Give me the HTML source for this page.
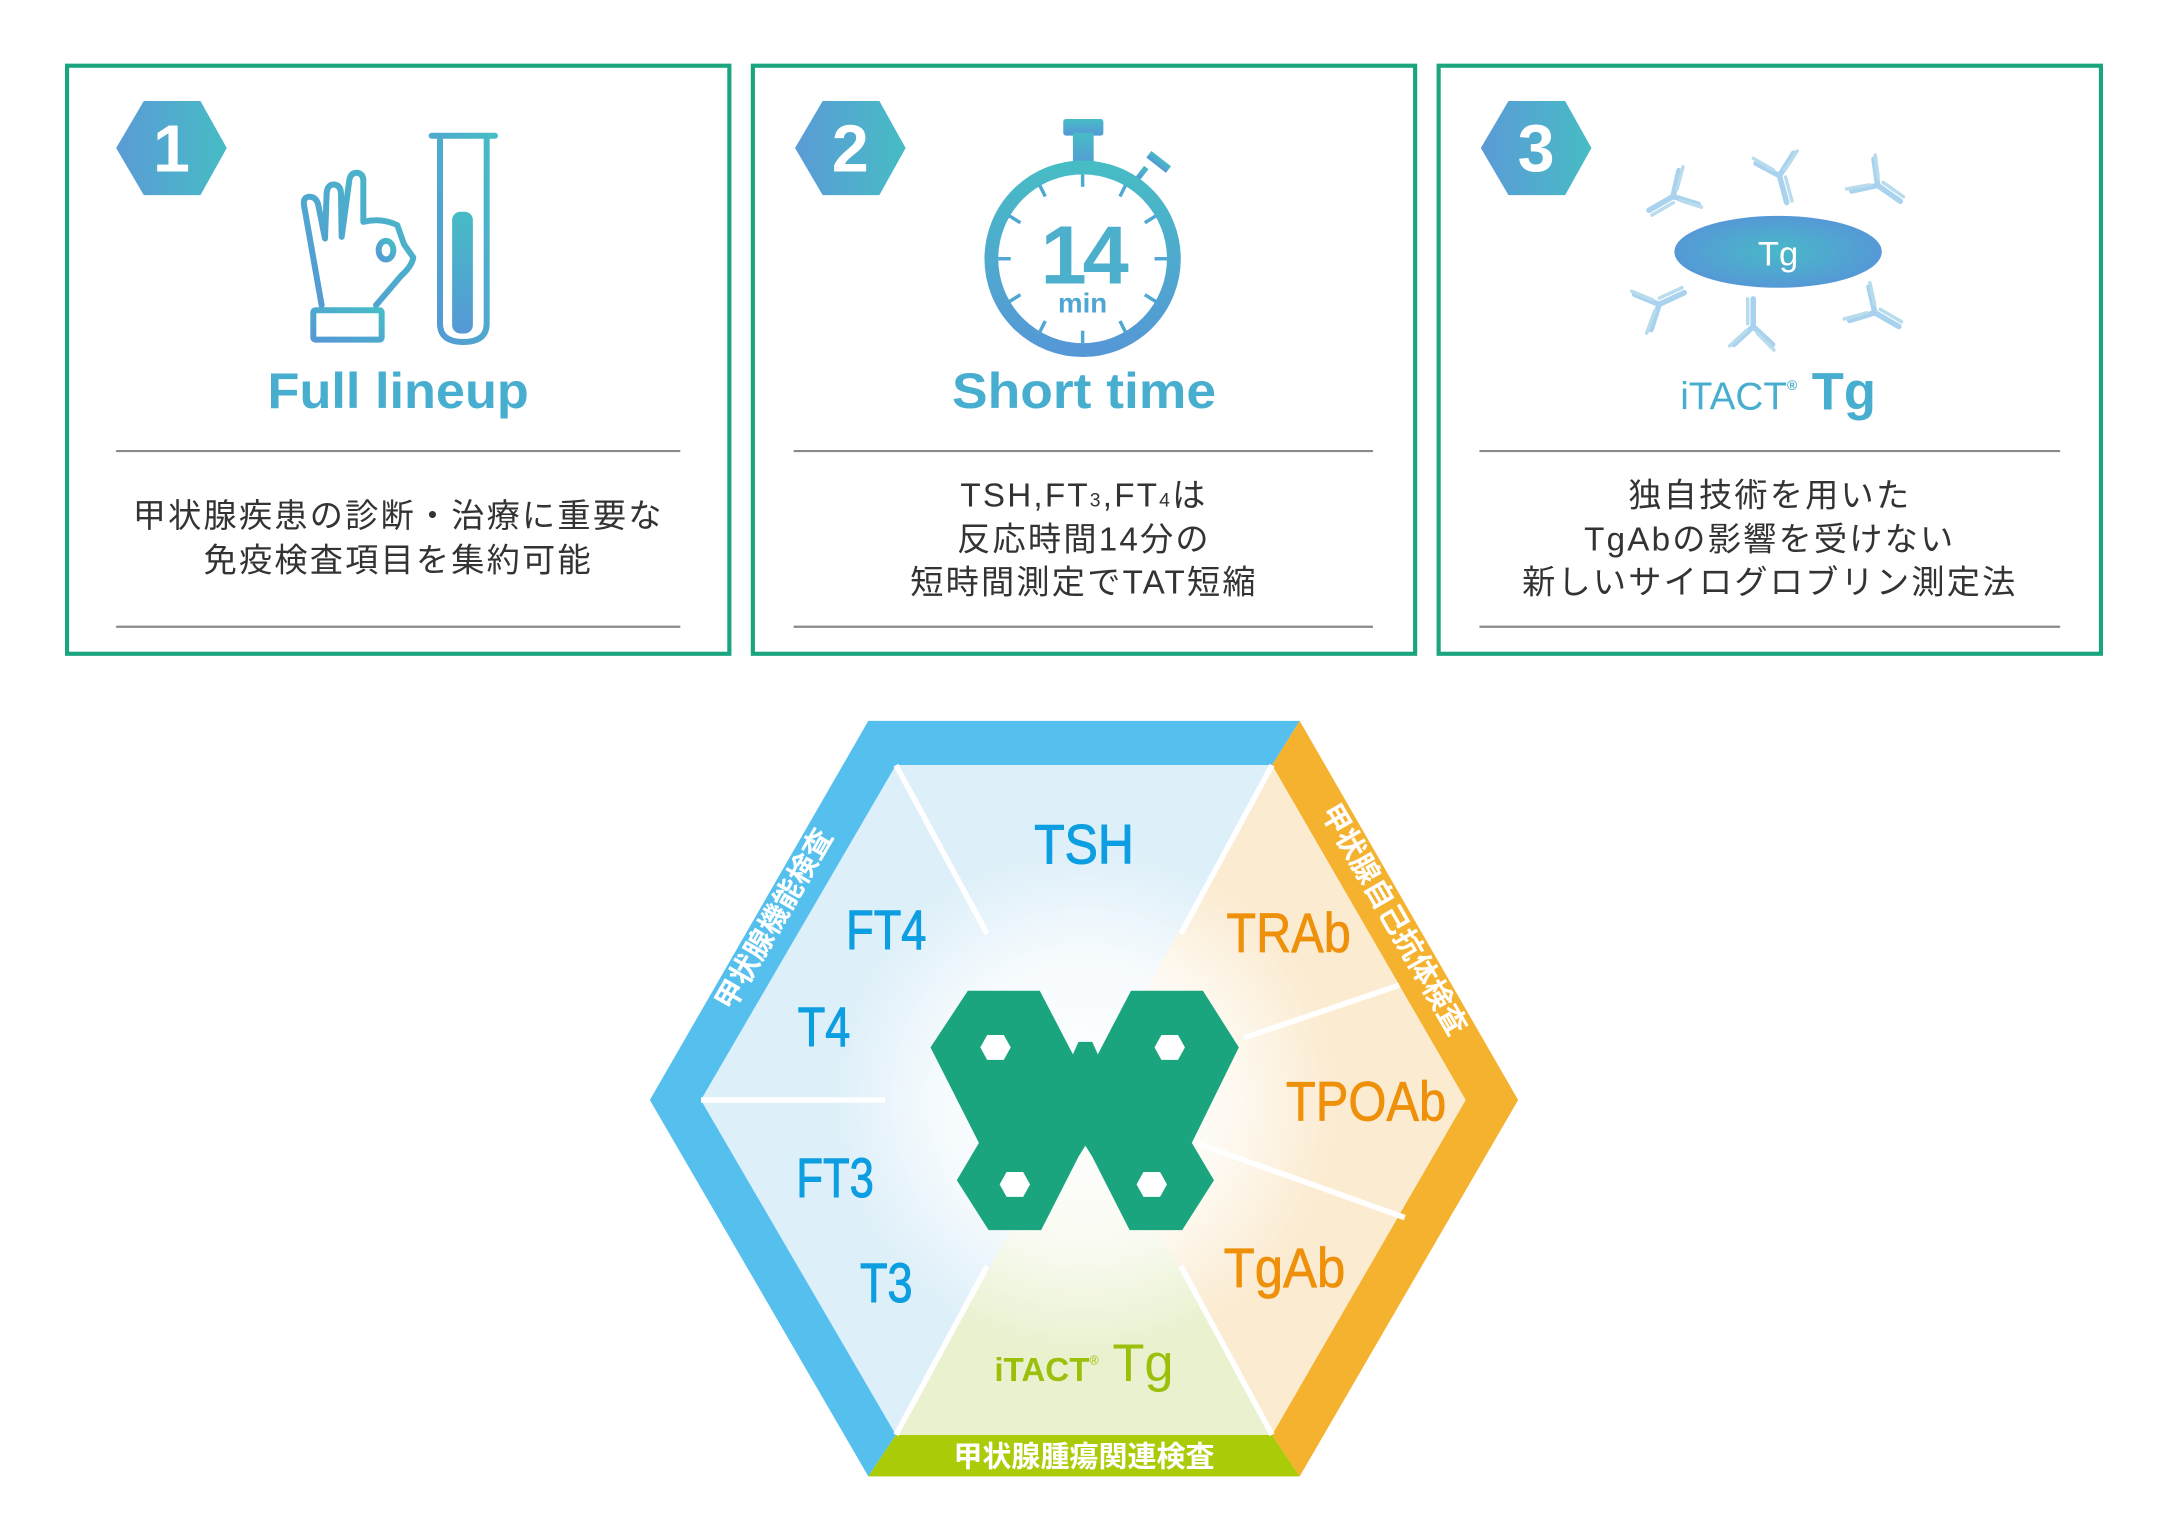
<!DOCTYPE html>
<html><head><meta charset="utf-8"><style>
html,body{margin:0;padding:0;background:#fff}
svg{display:block}
.jp{font-family:"Liberation Sans","Noto Sans CJK JP",sans-serif}
</style></head><body>
<svg width="2168" height="1540" viewBox="0 0 1568 1113" preserveAspectRatio="none" xmlns="http://www.w3.org/2000/svg">
<defs>
<linearGradient id="hg" x1="0" y1="0" x2="1" y2="0"><stop offset="0" stop-color="#5a9bd6"/><stop offset="1" stop-color="#47bcc5"/></linearGradient>
<linearGradient id="ig" x1="0" y1="0" x2="0" y2="1"><stop offset="0" stop-color="#47bcc5"/><stop offset="1" stop-color="#5598d6"/></linearGradient>
<linearGradient id="ig2" x1="1" y1="0" x2="0" y2="1"><stop offset="0" stop-color="#47bcc5"/><stop offset="1" stop-color="#5598d6"/></linearGradient>
<radialGradient id="eg" cx="0.5" cy="0.5" r="0.5"><stop offset="0" stop-color="#49b8c8"/><stop offset="1" stop-color="#5599d6"/></radialGradient>
<radialGradient id="cw" cx="0.5" cy="0.5" r="0.5"><stop offset="0" stop-color="#fff" stop-opacity="1"/><stop offset="0.55" stop-color="#fff" stop-opacity="0.75"/><stop offset="1" stop-color="#fff" stop-opacity="0"/></radialGradient>
<g id="ab" stroke="#a8d2ee" stroke-width="4" stroke-linecap="round" fill="none">
<path d="M0,0 L0,20 M0,0 L-14,-13 M0,0 L14,-13"/>
<path d="M4,2 L4,20 M-3,-5 L-15,-17 M5,-3 L17,-14" stroke="#b8dcec" stroke-width="2.5"/>
</g>
</defs>

<!-- boxes -->
<g fill="none" stroke="#1aa57f" stroke-width="3">
<rect x="48.5" y="47.5" width="479" height="425"/>
<rect x="544.5" y="47.5" width="479" height="425"/>
<rect x="1040.5" y="47.5" width="479" height="425"/>
</g>
<g stroke="#8a8a8a" stroke-width="1.6">
<line x1="84" y1="326" x2="492" y2="326"/><line x1="84" y1="453" x2="492" y2="453"/>
<line x1="574" y1="326" x2="993" y2="326"/><line x1="574" y1="453" x2="993" y2="453"/>
<line x1="1070" y1="326" x2="1490" y2="326"/><line x1="1070" y1="453" x2="1490" y2="453"/>
</g>

<!-- badges -->
<g fill="url(#hg)">
<polygon points="84,107 104,73 145,73 164,107 145,141 104,141"/>
<polygon points="575,107 595,73 636,73 655,107 636,141 595,141"/>
<polygon points="1071,107 1091,73 1132,73 1151,107 1132,141 1091,141"/>
</g>
<g fill="#fff" font-family="Liberation Sans,sans-serif" font-weight="bold" font-size="48" text-anchor="middle">
<text x="124" y="124">1</text><text x="615" y="124">2</text><text x="1111" y="124">3</text>
</g>

<!-- box1 icon -->
<g transform="translate(202.5,86.8) scale(0.2411)" fill="none" stroke="url(#ig2)" stroke-width="18" stroke-linejoin="round" stroke-linecap="round">
<path d="M125,555 L72,255 Q68,228 93,230 Q110,233 115,255 L135,355 L140,220 Q142,192 163,193 Q183,196 183,222 L185,350 L208,180 Q212,157 233,158 Q252,162 250,188 L250,305 Q305,292 352,315 L372,372 L400,412 Q395,438 365,465 L288,555"/>
<ellipse cx="318" cy="390" rx="22" ry="28"/>
<rect x="100" y="570" width="205" height="88" rx="6"/>
<path d="M455,47 L645,47 M480,50 L480,610 Q480,665 550,665 Q620,665 620,610 L620,50"/>
</g>
<rect x="327" y="153" width="15" height="88" rx="6" fill="url(#ig)"/>
<text x="288" y="295" text-anchor="middle" font-family="Liberation Sans,sans-serif" font-weight="bold" font-size="36" fill="#48aed0" textLength="189" lengthAdjust="spacingAndGlyphs">Full lineup</text>

<!-- box2 stopwatch -->
<g fill="url(#ig)">
<rect x="769" y="86" width="29" height="12" rx="2"/>
<rect x="776" y="96" width="15" height="26"/>
<rect x="829" y="114" width="18" height="6" transform="rotate(38 838 117)"/>
<rect x="824" y="120" width="4" height="10" transform="rotate(38 826 125)"/>
</g>
<circle cx="783" cy="187" r="66" fill="none" stroke="url(#ig)" stroke-width="10"/>
<g stroke="#4fa8d2" stroke-width="2.5">
<line x1="783" y1="126" x2="783" y2="135"/><line x1="783" y1="239" x2="783" y2="248"/>
<line x1="722" y1="187" x2="731" y2="187"/><line x1="835" y1="187" x2="844" y2="187"/>
<line x1="752" y1="134" x2="756" y2="142"/><line x1="814" y1="134" x2="810" y2="142"/>
<line x1="752" y1="240" x2="756" y2="232"/><line x1="814" y1="240" x2="810" y2="232"/>
<line x1="730" y1="156" x2="738" y2="161"/><line x1="836" y1="156" x2="828" y2="161"/>
<line x1="730" y1="218" x2="738" y2="213"/><line x1="836" y1="218" x2="828" y2="213"/>
</g>
<text x="783" y="205" text-anchor="middle" font-family="Liberation Sans,sans-serif" font-weight="bold" font-size="60" fill="#4cb0cc" letter-spacing="-3">14</text>
<text x="783" y="226" text-anchor="middle" font-family="Liberation Sans,sans-serif" font-weight="bold" font-size="20" fill="#4fa6d2">min</text>
<text x="784" y="295" text-anchor="middle" font-family="Liberation Sans,sans-serif" font-weight="bold" font-size="36" fill="#48aed0" textLength="191" lengthAdjust="spacingAndGlyphs">Short time</text>

<!-- box3 -->
<ellipse cx="1286" cy="182" rx="75" ry="26" fill="url(#eg)"/>
<text x="1286" y="192" text-anchor="middle" font-family="Liberation Sans,sans-serif" font-size="25" fill="#fff">Tg</text>
<use href="#ab" transform="translate(1210,142) rotate(60)"/>
<use href="#ab" transform="translate(1287,127) rotate(-15)"/>
<use href="#ab" transform="translate(1358,134) rotate(-55)"/>
<use href="#ab" transform="translate(1200,220) rotate(-115)"/>
<use href="#ab" transform="translate(1268,236) rotate(180)"/>
<use href="#ab" transform="translate(1356,226) rotate(-60)"/>
<text x="1286" y="296" text-anchor="middle" font-family="Liberation Sans,sans-serif" font-weight="bold" fill="#48aed0"><tspan font-size="28" font-weight="normal">iTACT</tspan><tspan font-size="10" dy="-14">®</tspan><tspan font-size="38" dy="14"> Tg</tspan></text>

<!-- body text -->
<g class="jp" font-size="24" fill="#333" text-anchor="middle" letter-spacing="1.6">
<text x="288" y="381">甲状腺疾患の診断・治療に重要な</text>
<text x="288" y="413">免疫検査項目を集約可能</text>
<text x="784" y="366">TSH,FT<tspan font-size="14">3</tspan>,FT<tspan font-size="14">4</tspan>は</text>
<text x="784" y="398">反応時間14分の</text>
<text x="784" y="429">短時間測定でTAT短縮</text>
<text x="1280" y="366">独自技術を用いた</text>
<text x="1280" y="398">TgAbの影響を受けない</text>
<text x="1280" y="429">新しいサイログロブリン測定法</text>
</g>

<!-- big hexagon -->
<polygon points="628,521 940,521 920,553 648,553 507,795 648,1037 628,1067 470,795" fill="#55c0ee"/>
<polygon points="940,521 1098,795 940,1067 920,1037 1060,795 920,553" fill="#f4b22e"/>
<polygon points="628,1067 648,1037 920,1037 940,1067" fill="#a9cb08"/>
<polygon points="784,795 920,553 648,553 507,795 648,1037" fill="#ddeff9"/>
<polygon points="784,795 920,553 1060,795 920,1037" fill="#fbebd0"/>
<polygon points="784,795 920,1037 648,1037" fill="#e9f1cf"/>
<circle cx="784" cy="795" r="185" fill="url(#cw)"/>
<g stroke="#fff" stroke-width="4">
<line x1="648" y1="553" x2="714" y2="675"/><line x1="920" y1="553" x2="854" y2="675"/>
<line x1="507" y1="795" x2="640" y2="795"/>
<line x1="648" y1="1037" x2="714" y2="915"/><line x1="920" y1="1037" x2="854" y2="915"/>
<line x1="900" y1="750" x2="1012" y2="712"/><line x1="862" y1="825" x2="1016" y2="880"/>
</g>
<!-- butterfly -->
<polygon fill="#1ba57f" points="700,716 752,716 776,762 780,753 790,753 794,762 818,716 870,716 896,757 862,826 878,853 855,889 817,889 790,836 785,828 780,836 753,889 715,889 692,853 708,826 673,757"/>
<g fill="#fff">
<polygon points="709,757 714,748 726,748 731,757 726,766 714,766"/>
<polygon points="835,757 840,748 852,748 857,757 852,766 840,766"/>
<polygon points="723,856 728,847 740,847 745,856 740,865 728,865"/>
<polygon points="822,856 827,847 839,847 844,856 839,865 827,865"/>
</g>

<g font-family="Liberation Sans,sans-serif" font-size="40" fill="#0c9ee0" stroke="#0c9ee0" stroke-width="0.8" lengthAdjust="spacingAndGlyphs">
<text x="748" y="624" textLength="72" lengthAdjust="spacingAndGlyphs">TSH</text>
<text x="612" y="686" textLength="58" lengthAdjust="spacingAndGlyphs">FT4</text>
<text x="577" y="756" textLength="38" lengthAdjust="spacingAndGlyphs">T4</text>
<text x="576" y="865" textLength="56" lengthAdjust="spacingAndGlyphs">FT3</text>
<text x="622" y="941" textLength="38" lengthAdjust="spacingAndGlyphs">T3</text>
</g>
<g font-family="Liberation Sans,sans-serif" font-size="40" fill="#ef900b" stroke="#ef900b" stroke-width="0.5">
<text x="887" y="688" textLength="90" lengthAdjust="spacingAndGlyphs">TRAb</text>
<text x="930" y="810" textLength="116" lengthAdjust="spacingAndGlyphs">TPOAb</text>
<text x="885" y="930" textLength="88" lengthAdjust="spacingAndGlyphs">TgAb</text>
</g>
<text x="784" y="998" text-anchor="middle" font-family="Liberation Sans,sans-serif" fill="#9bc00c"><tspan font-size="24" font-weight="bold">iTACT</tspan><tspan font-size="9" dy="-12">®</tspan><tspan font-size="38" dy="12"> Tg</tspan></text>

<g class="jp" fill="#fff" font-size="21" font-weight="bold" text-anchor="middle">
<text transform="translate(566,668) rotate(-60)">甲状腺機能検査</text>
<text transform="translate(1002,668) rotate(60)">甲状腺自己抗体検査</text>
<text x="784" y="1060">甲状腺腫瘍関連検査</text>
</g>
</svg>
</body></html>
